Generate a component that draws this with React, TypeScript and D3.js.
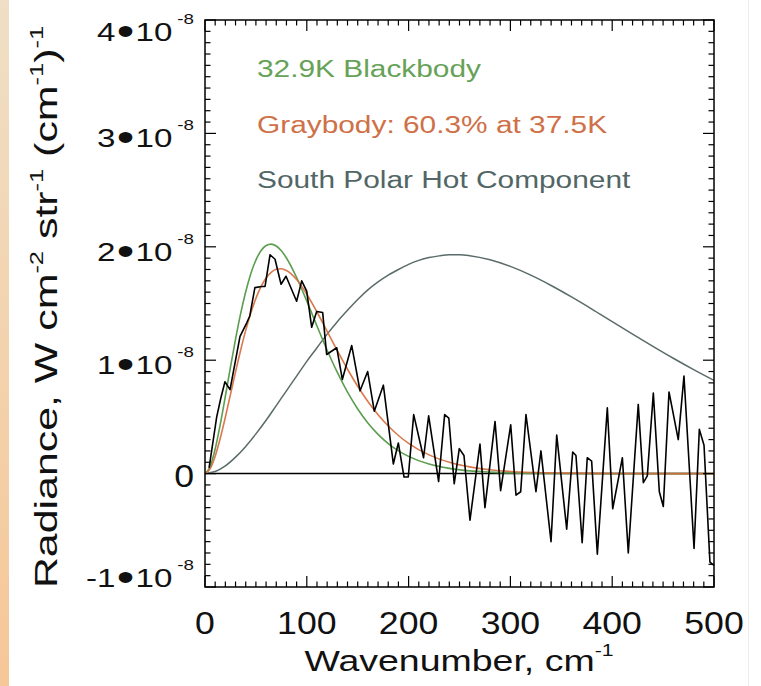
import React from 'react';
import * as d3 from 'd3';

// ---------- data (radiance in units of 1e-8 W cm^-2 str^-1 (cm^-1)^-1) ----------
const X_TICKS = [0, 100, 200, 300, 400, 500];
const Y_TICKS = [-1, 0, 1, 2, 3, 4];

const BB_NU = [0, 5, 10, 15, 20, 25, 30, 35, 40, 45, 50, 55, 60, 65, 70, 75, 80, 90, 100, 110, 120, 130, 140, 150, 160, 170, 180, 190, 200, 220, 240, 260, 280, 300, 350, 400, 450, 500];
const BLACKBODY = [0, 0.061, 0.217, 0.434, 0.682, 0.938, 1.185, 1.41, 1.604, 1.763, 1.883, 1.965, 2.011, 2.024, 2.007, 1.965, 1.901, 1.729, 1.521, 1.302, 1.088, 0.892, 0.718, 0.57, 0.447, 0.346, 0.265, 0.201, 0.152, 0.084, 0.046, 0.024, 0.013, 0.006, 0.001, 0, 0, 0];
const GRAYBODY = [0, 0.042, 0.154, 0.312, 0.498, 0.697, 0.897, 1.088, 1.263, 1.416, 1.545, 1.648, 1.725, 1.775, 1.802, 1.806, 1.791, 1.711, 1.582, 1.425, 1.255, 1.084, 0.92, 0.77, 0.636, 0.519, 0.42, 0.336, 0.267, 0.165, 0.1, 0.059, 0.034, 0.019, 0.005, 0.001, 0, 0];

const HOT_NU = [0, 10, 20, 30, 40, 50, 60, 70, 80, 90, 100, 110, 120, 130, 140, 150, 160, 170, 180, 190, 200, 210, 220, 230, 240, 250, 260, 280, 300, 320, 340, 360, 380, 400, 420, 440, 460, 480, 500];
const HOT = [0, 0.018, 0.068, 0.145, 0.24, 0.35, 0.47, 0.6, 0.73, 0.86, 0.99, 1.11, 1.23, 1.34, 1.44, 1.535, 1.62, 1.69, 1.75, 1.8, 1.845, 1.88, 1.905, 1.92, 1.93, 1.93, 1.922, 1.886, 1.827, 1.75, 1.659, 1.558, 1.451, 1.34, 1.23, 1.122, 1.017, 0.917, 0.822];

const DATA_NU = [4, 6, 11.5, 15.4, 19.6, 24.6, 34.4, 41, 44, 49, 55.7, 59, 63.9, 68.8, 74.7, 79.6, 90, 95, 99.9, 104.8, 109.7, 115.6, 119.5, 129.4, 134.9, 144.1, 152.3, 159.8, 166.3, 175.2, 185, 189.9, 195.5, 199.7, 205, 214.7, 219.7, 229.5, 235.4, 239.5, 244.8, 249.8, 254.4, 260.3, 270.1, 275, 284.9, 290.4, 300.3, 305.5, 310.1, 315.3, 325.1, 330, 339.9, 345.5, 355.3, 361.2, 364.4, 370.5, 375.5, 379.8, 385.4, 395.2, 400.5, 410, 415.8, 425.6, 430.6, 434.5, 440.4, 446.3, 450.2, 455.8, 464.9, 470.5, 480.4, 485.6, 490.2, 496, 500];
const DATA = [0.05, 0.17, 0.5, 0.66, 0.81, 0.74, 1.21, 1.33, 1.39, 1.64, 1.65, 1.65, 1.93, 1.89, 1.67, 1.74, 1.52, 1.7, 1.61, 1.29, 1.43, 1.42, 1.05, 1.11, 0.83, 1.13, 0.73, 0.9, 0.55, 0.78, 0.085, 0.27, -0.03, -0.03, 0.52, 0.14, 0.51, -0.07, 0.52, 0.49, -0.09, 0.22, 0.16, -0.41, 0.26, -0.3, 0.46, -0.15, 0.43, -0.19, -0.16, 0.52, -0.16, 0.2, -0.6, 0.34, -0.49, 0.19, 0.16, -0.61, 0.14, 0.11, -0.71, 0.58, -0.31, 0.14, -0.7, 0.61, -0.08, -0.02, 0.71, -0.16, -0.29, 0.72, 0.3, 0.86, -0.66, 0.39, 0.25, -0.78, -0.81];

const LEGEND_LABELS = ['32.9K Blackbody', 'Graybody: 60.3% at 37.5K', 'South Polar Hot Component'];
const LEGEND_COLORS = ['#66a257', '#cf7048', '#526666'];

const GREEN = '#5c9e4f';
const ORANGE = '#d66a3a';
const GRAY = '#5b6a6a';
const FONT = '"Liberation Sans", Arial, Helvetica, sans-serif';

export default function App() {
  const left = 205, right = 714, top = 20, bottom = 587;
  const x = d3.scaleLinear().domain([0, 500]).range([left, right]);
  const y = d3.scaleLinear().domain([-1, 4]).range([bottom, top]);

  const smooth = d3.line<[number, number]>().x(d => x(d[0])).y(d => y(d[1])).curve(d3.curveMonotoneX);
  const straight = d3.line<[number, number]>().x(d => x(d[0])).y(d => y(d[1]));

  const bbPts = BB_NU.map((n, i) => [n, BLACKBODY[i]] as [number, number]);
  const gbPts = BB_NU.map((n, i) => [n, GRAYBODY[i]] as [number, number]);
  const hotPts = HOT_NU.map((n, i) => [n, HOT[i]] as [number, number]);
  const dataPts = DATA_NU.map((n, i) => [n, DATA[i]] as [number, number]);

  const xMinor = x.ticks(50);
  const yMinor = d3.range(-10, 41).map(v => v / 10);

  return (
    <svg width={761} height={686} style={{ position: 'absolute', left: 0, top: 0, background: '#fff' }}>
      <defs>
        <linearGradient id="strip" x1="0" y1="0" x2="0" y2="1">
          <stop offset="0" stopColor="#efdfc6" />
          <stop offset="1" stopColor="#f6c797" />
        </linearGradient>
      </defs>
      <rect x={0} y={0} width={761} height={686} fill="#ffffff" />
      <rect x={0} y={0} width={9} height={686} fill="url(#strip)" />
      <line x1={748.5} x2={748.5} y1={0} y2={686} stroke="#ececec" strokeWidth={1} />

      {/* zero line */}
      <line x1={x(0)} x2={x(500)} y1={y(0)} y2={y(0)} stroke="#000" strokeWidth={1.5} />

      {/* curves */}
      <path d={smooth(hotPts) || ''} fill="none" stroke={GRAY} strokeWidth={1.5} />
      <path d={smooth(bbPts) || ''} fill="none" stroke={GREEN} strokeWidth={1.6} />
      <path d={smooth(gbPts) || ''} fill="none" stroke={ORANGE} strokeWidth={1.6} opacity={0.9} />
      <path d={straight(dataPts) || ''} fill="none" stroke="#000" strokeWidth={1.6} strokeLinejoin="round" />

      {/* frame */}
      <rect x={left} y={top} width={right - left} height={bottom - top} fill="none" stroke="#000" strokeWidth={1.5} />

      {/* x ticks (bottom & top) */}
      {xMinor.map(v => {
        const major = X_TICKS.includes(v);
        const len = major ? 11 : 5.5;
        return (
          <g key={'xt' + v}>
            <line x1={x(v)} x2={x(v)} y1={bottom} y2={bottom - len} stroke="#000" strokeWidth={1.2} />
            <line x1={x(v)} x2={x(v)} y1={top} y2={top + len} stroke="#000" strokeWidth={1.2} />
          </g>
        );
      })}
      {/* y ticks (left & right) */}
      {yMinor.map(v => {
        const major = Y_TICKS.includes(v);
        const len = major ? 11 : 5.5;
        return (
          <g key={'yt' + v}>
            <line x1={left} x2={left + len} y1={y(v)} y2={y(v)} stroke="#000" strokeWidth={1.2} />
            <line x1={right} x2={right - len} y1={y(v)} y2={y(v)} stroke="#000" strokeWidth={1.2} />
          </g>
        );
      })}

      {/* x tick labels */}
      {X_TICKS.map(v => (
        <text key={'xl' + v} transform={`translate(${x(v)},634) scale(1.15,1)`} textAnchor="middle"
          fontFamily={FONT} fontSize={31} fill="#111">{v}</text>
      ))}

      {/* y tick labels */}
      {Y_TICKS.map(v => {
        const base = Math.max(41, Math.min(y(v) + 14, 587));
        if (v === 0) {
          return (
            <text key={'yl' + v} transform={`translate(194,${y(v) + 13}) scale(1.15,1)`} textAnchor="end"
              fontFamily={FONT} fontSize={31} fill="#111">0</text>
          );
        }
        return (
          <text key={'yl' + v} transform={`translate(194,${base}) scale(1.25,1)`} textAnchor="end"
            fontFamily={FONT} fontSize={26.5} fill="#111">
            {v}<tspan dx={1} dy={4} fontSize={40}>•</tspan><tspan dx={1} dy={-4}>10</tspan>
            <tspan dx={4} dy={-17} fontSize={15}>-8</tspan>
          </text>
        );
      })}

      {/* x axis title */}
      <text transform={`translate(459,671) scale(1.25,1)`} textAnchor="middle" fontFamily={FONT} fontSize={30} fill="#111">
        Wavenumber, cm<tspan dy={-15} fontSize={17}>-1</tspan>
      </text>

      {/* y axis title */}
      <text transform={`translate(57,307) rotate(-90) scale(1.34,1)`} textAnchor="middle" fontFamily={FONT} fontSize={32} fill="#111">
        Radiance, W cm<tspan dy={-14} fontSize={19}>-2</tspan>
        <tspan dy={14}> str</tspan><tspan dy={-14} fontSize={19}>-1</tspan>
        <tspan dy={14}> (cm</tspan><tspan dy={-14} fontSize={19}>-1</tspan>
        <tspan dy={14}>)</tspan><tspan dy={-14} fontSize={19}>-1</tspan>
      </text>

      {/* legend */}
      {LEGEND_LABELS.map((t, i) => (
        <text key={'lg' + i} transform={`translate(257,${77 + i * 55.7}) scale(1.27,1)`} fontFamily={FONT} fontSize={23.5}
          fill={LEGEND_COLORS[i]}>{t}</text>
      ))}
    </svg>
  );
}
